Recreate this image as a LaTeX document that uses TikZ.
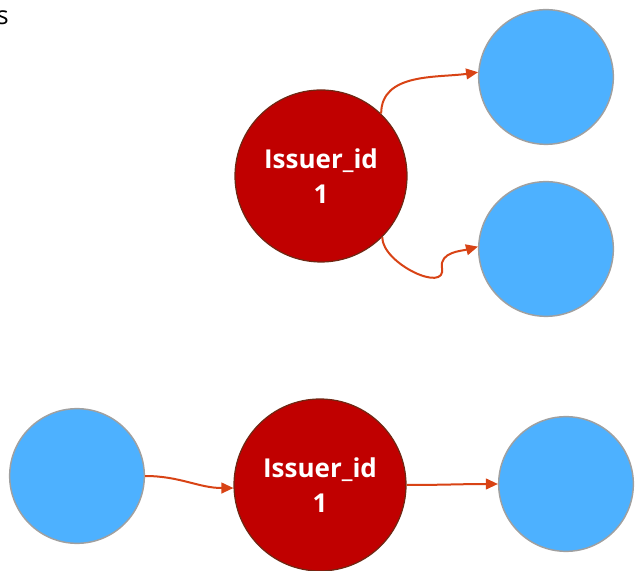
\documentclass[tikz,border=0pt]{standalone}
\usepackage{fontspec}
\setmainfont{Open Sans}
\usetikzlibrary{arrows.meta}
\definecolor{issuerred}{RGB}{192,0,0}
\definecolor{issuerrim}{RGB}{110,40,20}
\definecolor{holderblue}{RGB}{77,177,255}
\definecolor{holderrim}{RGB}{160,160,160}
\definecolor{linkorange}{RGB}{216,67,21}
\tikzset{
  issuer/.style={circle, fill=issuerred, draw=issuerrim, line width=0.9pt,
    minimum size=129pt, inner sep=0pt, text=white, align=center,
    font=\fontsize{19.5}{26}\selectfont\bfseries},
  holder/.style={circle, fill=holderblue, draw=holderrim, line width=1.1pt,
    minimum size=101pt, inner sep=0pt},
  link/.style={draw=linkorange, line width=1.5pt,
    -{Triangle[length=9pt,width=8pt,fill=linkorange]}},
}

\begin{document}
\begin{tikzpicture}[x=0.75pt, y=0.75pt]
    \useasboundingbox (0,0) rectangle (641,570);
    \node[anchor=west, font=\fontsize{19}{22}\selectfont] (cut) at (-8,552) {s};
    % upper group
    \node[issuer] (top) at (321,394) {Issuer\_id\\1};
    \node[holder] (up) at (546,493) {};
    \node[holder] (down) at (546,321) {};
    \coordinate (bend) at (442,302);
    \draw[link] (top.46) to[out=90,in=188] (up.176);
    \draw[link] (top.-45) to[out=-90,in=-80] (bend) to[out=100,in=195] (down.178);
    % lower group
    \node[holder] (left) at (77,94) {};
    \node[issuer] (mid) at (320,85) {Issuer\_id\\1};
    \node[holder] (right) at (566,86) {};
    \draw[link] (left.east) to[out=0,in=180] (mid.182);
    \draw[link] (mid.east) to[out=0,in=180] (right.west);
\end{tikzpicture}
\end{document}
